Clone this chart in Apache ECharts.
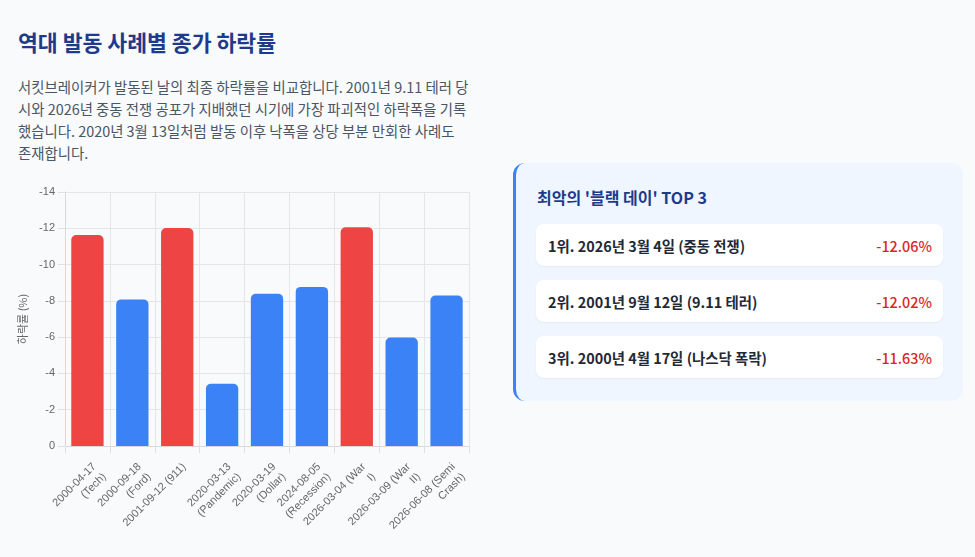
<!DOCTYPE html>
<html>
<head>
<meta charset="utf-8">
<script src="https://cdn.jsdelivr.net/npm/echarts@6/dist/echarts.min.js"></script>
<style>
body{margin:0;background:#f8fafc;font-family:"Noto Sans CJK KR","Noto Sans",sans-serif;width:975px;height:557px;overflow:hidden;position:relative}
h2{position:absolute;left:18px;top:27px;margin:0;font-size:21.6px;font-weight:700;color:#1e3a8a;line-height:30px}
.desc{position:absolute;left:18px;top:76px;width:470px;margin:0;font-size:14.4px;line-height:22px;color:#4b5563;white-space:nowrap}
#chart{position:absolute;left:0;top:160px;width:490px;height:397px}
.card{position:absolute;left:513px;top:163px;width:450px;height:238px;box-sizing:border-box;background:#eff6ff;border-left:3px solid #3b82f6;border-radius:12px;padding:22px 20px 0 20px}
.card h3{margin:0 0 15px 1px;font-size:16px;line-height:24px;font-weight:700;color:#1e3a8a}
.item{display:flex;justify-content:space-between;align-items:center;height:42px;background:#fff;border-radius:8px;padding:0 11px 0 12px;margin-bottom:14px;box-shadow:0 1px 2px rgba(0,0,0,0.05)}
.item .t{font-size:14.4px;font-weight:700;color:#1f2937}
.item .v{font-size:14.4px;font-weight:500;color:#dc2626}
</style>
</head>
<body>
<h2>역대 발동 사례별 종가 하락률</h2>
<p class="desc">서킷브레이커가 발동된 날의 최종 하락률을 비교합니다. 2001년 9.11 테러 당<br>시와 2026년 중동 전쟁 공포가 지배했던 시기에 가장 파괴적인 하락폭을 기록<br>했습니다. 2020년 3월 13일처럼 발동 이후 낙폭을 상당 부분 만회한 사례도<br>존재합니다.</p>
<div id="chart"></div>
<div class="card">
  <h3>최악의 '블랙 데이' TOP 3</h3>
  <div id="top3"></div>
</div>
<script>
// 차트 데이터
var categories = [
    "2000-04-17\n(Tech)",
    "2000-09-18\n(Ford)",
    "2001-09-12 (911)",
    "2020-03-13\n(Pandemic)",
    "2020-03-19\n(Dollar)",
    "2024-08-05\n(Recession)",
    "2026-03-04 (War\nI)",
    "2026-03-09 (War\nII)",
    "2026-06-08 (Semi\nCrash)"
];
var dropRates = [-11.63, -8.08, -12.02, -3.43, -8.39, -8.77, -12.06, -5.98, -8.30];
var yTicks = [0, -2, -4, -6, -8, -10, -12, -14];

// TOP 3 목록
var topLabels = ["1위. 2026년 3월 4일 (중동 전쟁)", "2위. 2001년 9월 12일 (9.11 테러)", "3위. 2000년 4월 17일 (나스닥 폭락)"];
var topValues = ["-12.06%", "-12.02%", "-11.63%"];

var html = "";
for (var i = 0; i < topLabels.length; i++) {
    html += '<div class="item"><span class="t">' + topLabels[i] + '</span><span class="v">' + topValues[i] + '</span></div>';
}
document.getElementById("top3").innerHTML = html;

// 가장 큰 하락 3개는 빨간색
var sorted = dropRates.slice().sort(function (a, b) { return a - b; });
var cutoff = sorted[2];

var myChart = echarts.init(document.getElementById('chart'));
var option = {
    animation: false,
    grid: {left: 65, right: 21, top: 32, bottom: 111},
    xAxis: {
        type: 'category',
        data: categories,
        axisLine: {lineStyle: {color: '#d9d9d9'}},
        axisTick: {show: true, length: 7, lineStyle: {color: '#e0e0e0'}},
        splitLine: {show: true, lineStyle: {color: '#e6e6e6'}},
        axisLabel: {
            interval: 0,
            rotate: 45,
            margin: 12,
            verticalAlign: 'top',
            padding: [3, 0, 0, 0],
            color: '#666',
            fontSize: 11,
            lineHeight: 14,
            fontFamily: 'Liberation Sans, Arial, sans-serif'
        }
    },
    yAxis: {
        type: 'value',
        inverse: true,
        min: yTicks[yTicks.length - 1],
        max: yTicks[0],
        interval: 2,
        name: '하락률 (%)',
        nameLocation: 'middle',
        nameGap: 29,
        nameTextStyle: {color: '#666', fontSize: 11, fontFamily: 'Noto Sans CJK KR'},
        axisLine: {show: true, lineStyle: {color: '#d9d9d9'}},
        axisTick: {show: true, length: 7, lineStyle: {color: '#e0e0e0'}},
        splitLine: {lineStyle: {color: '#e6e6e6'}},
        axisLabel: {color: '#666', fontSize: 11, margin: 10, fontFamily: 'Liberation Sans, Arial, sans-serif'}
    },
    series: [{
        type: 'bar',
        data: dropRates,
        barCategoryGap: '28%',
        itemStyle: {
            borderRadius: [5, 5, 0, 0],
            color: function (p) {
                return p.value <= cutoff ? '#ef4444' : '#3b82f6';
            }
        }
    }]
};
myChart.setOption(option);
</script>
</body>
</html>
